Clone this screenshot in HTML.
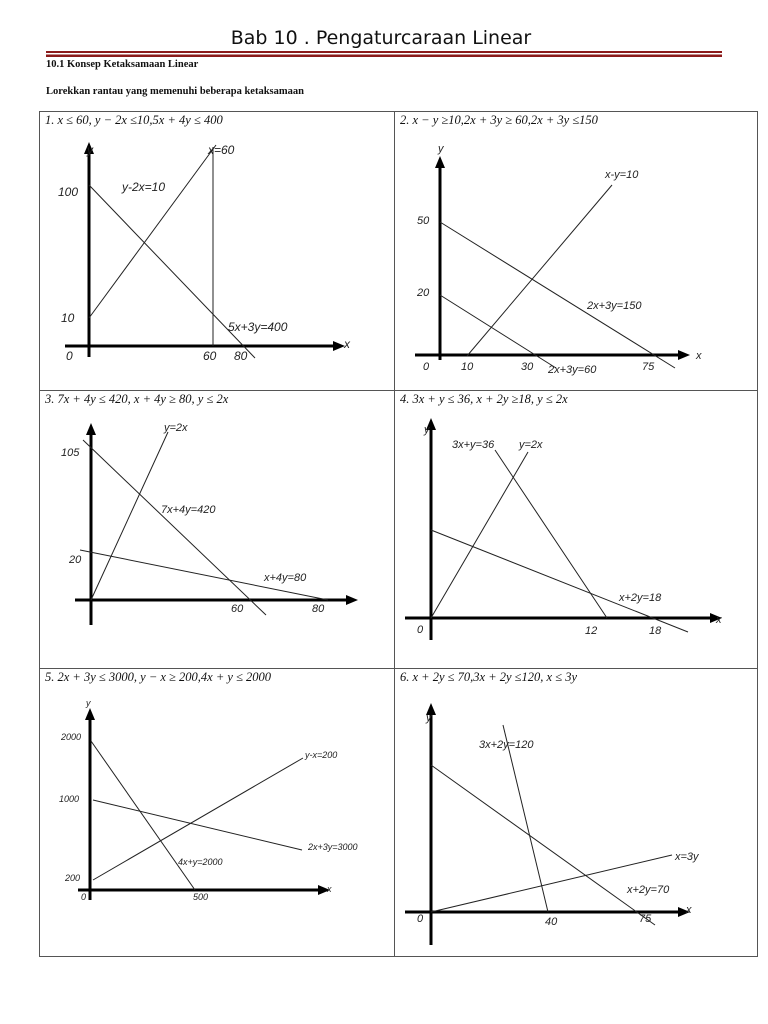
<!DOCTYPE html>
<html><head><meta charset="utf-8"><style>
html,body{margin:0;padding:0;background:#fff;}
svg{display:block;}
.t{font-family:"Liberation Sans",sans-serif;font-size:12px;font-style:italic;fill:#222;}
.s{font-family:"Liberation Sans",sans-serif;font-size:9px;font-style:italic;fill:#222;}
.h{font-family:"Liberation Serif",serif;font-size:12.5px;font-style:italic;fill:#111;}
.b{font-family:"Liberation Serif",serif;font-size:10.5px;font-weight:bold;fill:#111;}
</style></head><body>
<svg width="768" height="1024" viewBox="0 0 768 1024">
<text x="381" y="44" text-anchor="middle" font-family="DejaVu Sans, sans-serif" font-size="19" fill="#111">Bab 10 . Pengaturcaraan Linear</text>
<rect x="46" y="51" width="676" height="2" fill="#8b1a1a"/>
<rect x="46" y="54.5" width="676" height="2.5" fill="#8b1a1a"/>
<text class="b" x="46" y="67">10.1 Konsep Ketaksamaan Linear</text>
<text class="b" x="46" y="94">Lorekkan rantau yang memenuhi beberapa ketaksamaan</text>
<g stroke="#555" stroke-width="1" fill="none">
<rect x="39.5" y="111.5" width="718" height="845"/>
<line x1="394.5" y1="111" x2="394.5" y2="957"/>
<line x1="39" y1="390.5" x2="758" y2="390.5"/>
<line x1="39" y1="668.5" x2="758" y2="668.5"/>
</g>
<g class="h">
<text x="45" y="124">1.   <tspan>x ≤ 60, y − 2x ≤10,5x + 4y ≤ 400</tspan></text>
<text x="400" y="124">2.   x − y ≥10,2x + 3y ≥ 60,2x + 3y ≤150</text>
<text x="45" y="403">3.   7x + 4y ≤ 420, x + 4y ≥ 80, y ≤ 2x</text>
<text x="400" y="403">4.   3x + y ≤ 36, x + 2y ≥18, y ≤ 2x</text>
<text x="45" y="681">5.   2x + 3y ≤ 3000, y − x ≥ 200,4x + y ≤ 2000</text>
<text x="400" y="681">6.   x + 2y ≤ 70,3x + 2y ≤120, x ≤ 3y</text>
</g>
<!-- axes -->
<g stroke="#000" stroke-width="3">
<line x1="89" y1="152" x2="89" y2="357"/><line x1="65" y1="346" x2="335" y2="346"/>
<line x1="440" y1="166" x2="440" y2="360"/><line x1="415" y1="355" x2="680" y2="355"/>
<line x1="91" y1="433" x2="91" y2="625"/><line x1="75" y1="600" x2="348" y2="600"/>
<line x1="431" y1="428" x2="431" y2="640"/><line x1="405" y1="618" x2="712" y2="618"/>
<line x1="90" y1="718" x2="90" y2="900"/><line x1="78" y1="890" x2="320" y2="890"/>
<line x1="431" y1="713" x2="431" y2="945"/><line x1="405" y1="912" x2="680" y2="912"/>
</g>
<g fill="#000">
<polygon points="89,142 84,154 94,154"/><polygon points="345,346 333,341 333,351"/>
<polygon points="440,156 435,168 445,168"/><polygon points="690,355 678,350 678,360"/>
<polygon points="91,423 86,435 96,435"/><polygon points="358,600 346,595 346,605"/>
<polygon points="431,418 426,430 436,430"/><polygon points="722,618 710,613 710,623"/>
<polygon points="90,708 85,720 95,720"/><polygon points="330,890 318,885 318,895"/>
<polygon points="431,703 426,715 436,715"/><polygon points="690,912 678,907 678,917"/>
</g>
<g stroke="#222" stroke-width="1">
<line x1="89" y1="318" x2="216" y2="145"/><line x1="213" y1="147" x2="213" y2="346"/><line x1="89" y1="185" x2="255" y2="358"/>
<line x1="467" y1="356" x2="612" y2="185"/><line x1="440" y1="222" x2="675" y2="368"/><line x1="440" y1="295" x2="556" y2="368"/>
<line x1="91" y1="600" x2="168" y2="432"/><line x1="83" y1="440" x2="266" y2="615"/><line x1="80" y1="550" x2="328" y2="600"/>
<line x1="431" y1="618" x2="528" y2="452"/><line x1="495" y1="450" x2="607" y2="618"/><line x1="431" y1="530" x2="688" y2="632"/>
<line x1="91" y1="741" x2="195" y2="890"/><line x1="93" y1="800" x2="302" y2="850"/><line x1="93" y1="880" x2="303" y2="758"/>
<line x1="431" y1="765" x2="655" y2="925"/><line x1="503" y1="725" x2="548" y2="912"/><line x1="431" y1="912" x2="672" y2="855"/>
</g>
<g class="t">
<text x="87" y="154">y</text><text x="208" y="154">x=60</text><text x="58" y="196">100</text><text x="122" y="191">y-2x=10</text>
<text x="61" y="322">10</text><text x="228" y="331">5x+3y=400</text><text x="66" y="360">0</text><text x="203" y="360">60</text><text x="234" y="360">80</text><text x="344" y="348">x</text>
</g>
<g class="t" style="font-size:11px">
<text x="438" y="152">y</text><text x="605" y="178">x-y=10</text><text x="417" y="224">50</text><text x="417" y="296">20</text><text x="587" y="309">2x+3y=150</text>
<text x="423" y="370">0</text><text x="461" y="370">10</text><text x="521" y="370">30</text><text x="548" y="373">2x+3y=60</text><text x="642" y="370">75</text><text x="696" y="359">x</text>
<text x="164" y="431">y=2x</text><text x="61" y="456">105</text><text x="161" y="513">7x+4y=420</text><text x="69" y="563">20</text><text x="264" y="581">x+4y=80</text><text x="231" y="612">60</text><text x="312" y="612">80</text>
<text x="424" y="433">y</text><text x="452" y="448">3x+y=36</text><text x="519" y="448">y=2x</text><text x="619" y="601">x+2y=18</text><text x="417" y="633">0</text><text x="585" y="634">12</text><text x="649" y="634">18</text><text x="716" y="623">x</text>
<text x="426" y="721">y</text><text x="479" y="748">3x+2y=120</text><text x="675" y="860">x=3y</text><text x="627" y="893">x+2y=70</text><text x="417" y="922">0</text><text x="545" y="925">40</text><text x="639" y="922">75</text><text x="686" y="913">x</text>
</g>
<g class="s">
<text x="86" y="706">y</text><text x="61" y="740">2000</text><text x="59" y="802">1000</text><text x="65" y="881">200</text><text x="81" y="900">0</text><text x="193" y="900">500</text>
<text x="305" y="758">y-x=200</text><text x="308" y="850">2x+3y=3000</text><text x="178" y="865">4x+y=2000</text><text x="327" y="892">x</text>
</g>
</svg>
</body></html>
